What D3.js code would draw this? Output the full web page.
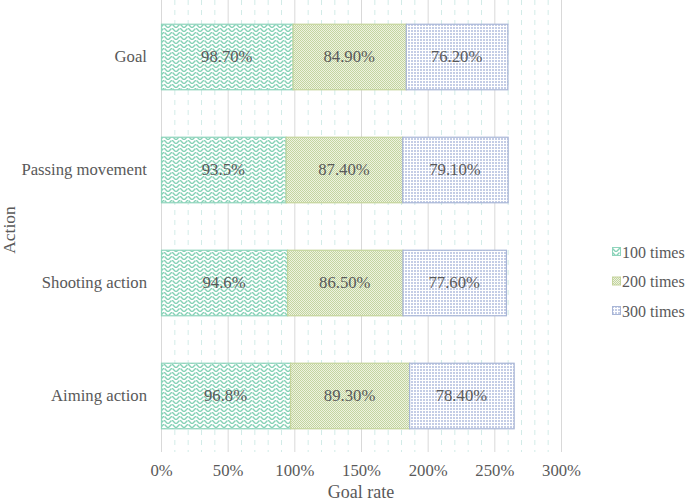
<!DOCTYPE html>
<html><head><meta charset="utf-8">
<script src="https://cdn.jsdelivr.net/npm/d3@7"></script>
<style>body{margin:0;background:#fff}svg{display:block}</style>
</head><body><svg id="c" width="685" height="503"></svg>
<script>
const categories = ["Goal", "Passing movement", "Shooting action", "Aiming action"];
const seriesNames = ["100 times", "200 times", "300 times"];
const s100 = [98.7, 93.5, 94.6, 96.8];
const s200 = [84.9, 87.4, 86.5, 89.3];
const s300 = [76.2, 79.1, 77.6, 78.4];
const labels100 = ["98.70%", "93.5%", "94.6%", "96.8%"];
const labels200 = ["84.90%", "87.40%", "86.50%", "89.30%"];
const labels300 = ["76.20%", "79.10%", "77.60%", "78.40%"];
const majorTicks = [0, 50, 100, 150, 200, 250, 300];

const svg = d3.select("#c");
const txt = "#595959";
const FF = '"Liberation Serif"';
function st(sel, size){ return sel.style("font-family",FF).style("font-size",size+"px").attr("fill",txt); }

const defs = svg.append("defs");
const p1 = defs.append("pattern").attr("id","p1").attr("width",8).attr("height",8).attr("patternUnits","userSpaceOnUse");
p1.append("rect").attr("width",8).attr("height",8).attr("fill","#fff");
p1.append("path").attr("d","M0,3 L3,0 L4,0 L4,1 L1,4 L0,4Z M4,4 L5,4 L8,7 L8,8 L7,8 L4,5Z M5,0 L8,3 L8,4 L7,4 L4,1Z M0,7 L3,4 L4,5 L1,8 L0,8Z").attr("fill","#86d1b6");
const p2 = defs.append("pattern").attr("id","p2").attr("width",2).attr("height",2).attr("patternUnits","userSpaceOnUse");
p2.append("rect").attr("width",2).attr("height",2).attr("fill","#eef3e0");
p2.append("rect").attr("width",1).attr("height",1).attr("fill","#c3d4a0");
p2.append("rect").attr("x",1).attr("y",1).attr("width",1).attr("height",1).attr("fill","#c3d4a0");
const p3 = defs.append("pattern").attr("id","p3").attr("width",3).attr("height",3).attr("patternUnits","userSpaceOnUse");
p3.append("rect").attr("width",3).attr("height",3).attr("fill","#fff");
p3.append("rect").attr("width",2).attr("height",2).attr("fill","#c4cde6");

const fills = ["url(#p1)","url(#p2)","url(#p3)"];
const strokes = ["#8fd4bc","#c5d49c","#a9b6d6"];

const x = d3.scaleLinear().domain([0,300]).range([161,561]);
const y = d3.scaleBand().domain(categories).range([0,452]).paddingInner(0.42).paddingOuter(0.21);

const minor = d3.range(0,301,10).filter(v => v%50!==0);
svg.append("g").selectAll("line").data(minor).join("line")
  .attr("x1",d=>x(d)+0.5).attr("x2",d=>x(d)+0.5).attr("y1",0).attr("y2",452)
  .attr("stroke","#d2ece8").attr("stroke-width",1).attr("stroke-dasharray","5,5");
svg.append("g").selectAll("line").data(majorTicks).join("line")
  .attr("x1",d=>x(d)+0.5).attr("x2",d=>x(d)+0.5).attr("y1",0).attr("y2",452)
  .attr("stroke","#d9d9d9").attr("stroke-width",1);

const series = [s100,s200,s300];
const labs = [labels100,labels200,labels300];
categories.forEach((c,i)=>{
  let acc = 0;
  series.forEach((s,k)=>{
    const v = s[i];
    const x0 = x(acc), x1 = x(acc+v);
    svg.append("rect").attr("x",x0+0.5).attr("y",y(c)+0.5).attr("width",x1-x0).attr("height",y.bandwidth())
      .attr("fill",fills[k]).attr("stroke",strokes[k]).attr("stroke-width",1.2);
    st(svg.append("text").attr("x",(x0+x1)/2).attr("y",y(c)+y.bandwidth()/2).attr("dy","0.35em")
      .attr("text-anchor","middle"),16.7).text(labs[k][i]);
    acc += v;
  });
});

const xa = svg.append("g").attr("transform","translate(0,452)").call(d3.axisBottom(x).tickValues(majorTicks).tickFormat(d=>d+"%").tickSize(0).tickPadding(12));
xa.select(".domain").remove();
st(xa.selectAll("text"),16.7);
const ya = svg.append("g").attr("transform","translate(161,0)").call(d3.axisLeft(y).tickSize(0).tickPadding(14));
ya.select(".domain").remove();
st(ya.selectAll("text"),16.7);

st(svg.append("text").attr("x",361).attr("y",498).attr("text-anchor","middle"),18).text("Goal rate");
st(svg.append("text").attr("transform","translate(15,230) rotate(-90)").attr("text-anchor","middle"),17.5).text("Action");

const lg = svg.append("g");
seriesNames.forEach((n,k)=>{
  const yy = 252 + k*29.5;
  lg.append("rect").attr("x",612.5).attr("y",yy-4.5).attr("width",8).attr("height",8).attr("fill",fills[k]).attr("stroke",strokes[k]);
  st(lg.append("text").attr("x",622).attr("y",yy).attr("dy","0.35em"),16).text(n);
});
</script></body></html>
